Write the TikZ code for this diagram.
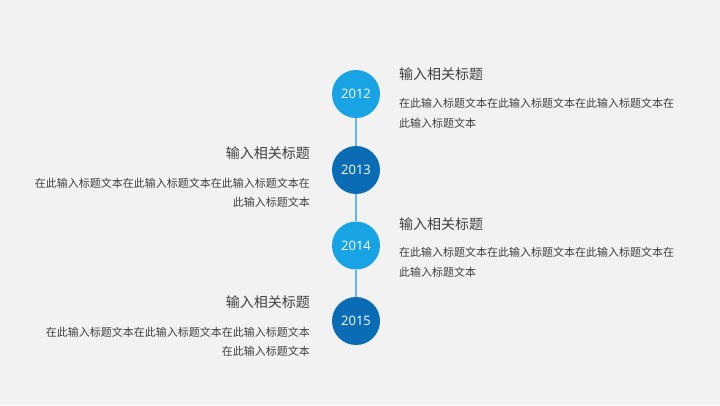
\documentclass[tikz,border=0pt]{standalone}
\usepackage{fontspec}
\setmainfont{Open Sans}
\newfontfamily\cjk{Noto Sans CJK SC}
\definecolor{bgc}{HTML}{F2F2F2}
\definecolor{lightc}{HTML}{18A4E4}
\definecolor{darkc}{HTML}{0B6CB6}
\definecolor{linec}{HTML}{5DB7E8}
\definecolor{txtc}{HTML}{3F3F3F}
\begin{document}
\begin{tikzpicture}[x=1pt,y=-1pt,
  yearbox/.style={circle,minimum size=48pt,inner sep=0pt,text=white,font=\fontsize{13}{13}\selectfont},
  titletxt/.style={inner sep=0pt,text=txtc,font=\cjk\fontsize{14}{14}\selectfont},
  bodytxt/.style={inner sep=0pt,text=txtc,font=\cjk\fontsize{11}{12}\selectfont},
  conn/.style={linec,line width=1.2pt}]
\fill[bgc] (0,0) rectangle (720,405);
\useasboundingbox (0,0) rectangle (720,405);
\node[yearbox,fill=lightc] (y1) at (356,94) {2012};
\node[yearbox,fill=darkc] (y2) at (356,170) {2013};
\node[yearbox,fill=lightc] (y3) at (356,245.5) {2014};
\node[yearbox,fill=darkc] (y4) at (356,321) {2015};
\draw[conn] (y1) -- (y2);
\draw[conn] (y2) -- (y3);
\draw[conn] (y3) -- (y4);
% 2012 right
\node[titletxt,anchor=west] (t1) at (399,74) {输入相关标题};
\node[bodytxt,anchor=west] (b1a) at (399,103) {在此输入标题文本在此输入标题文本在此输入标题文本在};
\node[bodytxt,anchor=west] (b1b) at (399,123) {此输入标题文本};
% 2013 left
\node[titletxt,anchor=east] (t2) at (310,153) {输入相关标题};
\node[bodytxt,anchor=east] (b2a) at (310,183) {在此输入标题文本在此输入标题文本在此输入标题文本在};
\node[bodytxt,anchor=east] (b2b) at (310,202) {此输入标题文本};
% 2014 right
\node[titletxt,anchor=west] (t3) at (399,224) {输入相关标题};
\node[bodytxt,anchor=west] (b3a) at (399,252) {在此输入标题文本在此输入标题文本在此输入标题文本在};
\node[bodytxt,anchor=west] (b3b) at (399,272) {此输入标题文本};
% 2015 left
\node[titletxt,anchor=east] (t4) at (310,302) {输入相关标题};
\node[bodytxt,anchor=east] (b4a) at (310,332) {在此输入标题文本在此输入标题文本在此输入标题文本};
\node[bodytxt,anchor=east] (b4b) at (310,351) {在此输入标题文本};
\end{tikzpicture}
\end{document}
